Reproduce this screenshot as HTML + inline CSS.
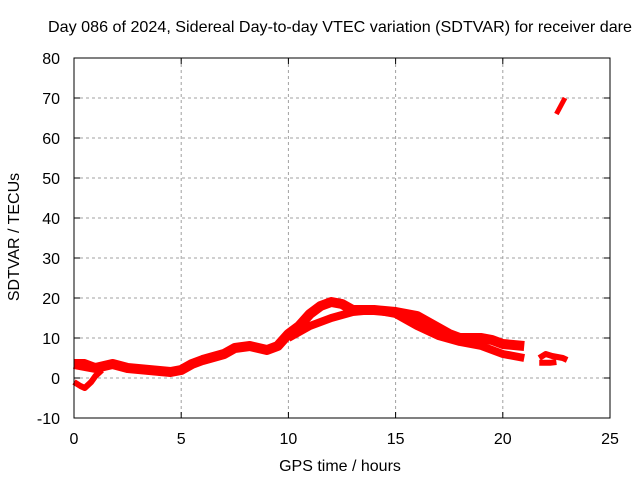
<!DOCTYPE html>
<html><head><meta charset="utf-8"><style>
body{margin:0;background:#fff}
svg{display:block;font-family:"Liberation Sans",sans-serif;font-size:16px}
</style></head><body>
<svg id="c" width="640" height="480">
<rect width="640" height="480" fill="#fff"/>
<g id="grid"></g><g id="series"></g><g id="axes"></g>
<text x="48" y="32" textLength="584" lengthAdjust="spacingAndGlyphs">Day 086 of 2024, Sidereal Day-to-day VTEC variation (SDTVAR) for receiver dare</text>
<text x="340" y="471" text-anchor="middle">GPS time / hours</text>
<text transform="translate(19,237) rotate(-90)" text-anchor="middle">SDTVAR / TECUs</text>
</svg>
<script>
const xTicks=[0,5,10,15,20,25];
const yTicks=[-10,0,10,20,30,40,50,60,70,80];
const trackMainH=[0,0.5,1,1.8,2.5,3.5,4.5,5,5.5,6,7,7.5,8.2,9,9.5,10,10.5,11,11.5,12,12.5,13,14,15,15.5,16,16.5,17,17.5,18,19,19.5,20,21];
const trackMainV=[3.5,3,2.5,3.5,2.5,2,1.5,2,3.5,4.5,6,7.5,8,7,8,11,13,16,18,19,18.5,17,17,16.5,16,15.5,14,12.5,11,10,10,9.5,8.5,8];
const trackLowH=[10,11,12,13,14,15,16,17,18,19,20,21];
const trackLowV=[10,13,15,16.5,17,16,13,10.5,9,8,6,5];
const trackLoopH=[0,0.3,0.5,0.8,1,1.3];
const trackLoopV=[-1,-2,-2.5,-1,0.5,2];
const trackStartH=[0,0.5,1];
const trackStartV=[4,4,3];
const trackLateH=[21.7,22,22.3,22.8,23];
const trackLateV=[5,6,5.5,5,4.5];
const trackLate2H=[21.7,22.2,22.5];
const trackLate2V=[3.8,3.8,4];
const trackHighH=[22.5,22.9];
const trackHighV=[66,70];
const X0=74,X1=610,Y0=418,Y1=58;
const sx=v=>X0+(v-0)/(25-0)*(X1-X0);
const sy=v=>Y0-(v+10)/(90)*(Y0-Y1);
const NS="http://www.w3.org/2000/svg";
const mk=(t,a)=>{const e=document.createElementNS(NS,t);for(const k in a)e.setAttribute(k,a[k]);return e;};
const grid=document.getElementById('grid'),axes=document.getElementById('axes'),ser=document.getElementById('series');
xTicks.forEach(t=>{const x=sx(t);
 if(t>0&&t<25){const l=mk('line',{x1:x,x2:x,y1:Y1,y2:Y0,stroke:'#a0a0a0','stroke-dasharray':'3,3'});
 
 grid.appendChild(l);}
 axes.appendChild(mk('line',{x1:x,x2:x,y1:Y0,y2:Y0-6,stroke:'#000'}));
 axes.appendChild(mk('line',{x1:x,x2:x,y1:Y1,y2:Y1+6,stroke:'#000'}));
 const tx=mk('text',{x:x,y:Y0+26,'text-anchor':'middle'});tx.textContent=t;
 
 axes.appendChild(tx);});
yTicks.forEach(t=>{const y=sy(t);
 if(t>-10&&t<80){const l=mk('line',{x1:X0,x2:X1,y1:y,y2:y,stroke:'#a0a0a0','stroke-dasharray':'3,3'});
 
 grid.appendChild(l);}
 axes.appendChild(mk('line',{x1:X0,x2:X0+6,y1:y,y2:y,stroke:'#000'}));
 axes.appendChild(mk('line',{x1:X1,x2:X1-6,y1:y,y2:y,stroke:'#000'}));
 const tx=mk('text',{x:X0-14,y:y+6,'text-anchor':'end'});tx.textContent=t;
 
 axes.appendChild(tx);});
const frame=mk('rect',{x:X0,y:Y1,width:X1-X0,height:Y0-Y1,fill:'none',stroke:'#000'});

axes.appendChild(frame);
[[trackMainH,trackMainV,10],[trackLowH,trackLowV,8],[trackLoopH,trackLoopV,6],[trackStartH,trackStartV,6],[trackLateH,trackLateV,6],[trackLate2H,trackLate2V,6],[trackHighH,trackHighV,5]].forEach(([h,v,w])=>{
 const p=mk('polyline',{points:h.map((x,i)=>sx(x)+','+sy(v[i])).join(' '),fill:'none',stroke:'#ff0000','stroke-width':w,'stroke-linejoin':'round'});
 
 ser.appendChild(p);});
</script>
</body></html>
